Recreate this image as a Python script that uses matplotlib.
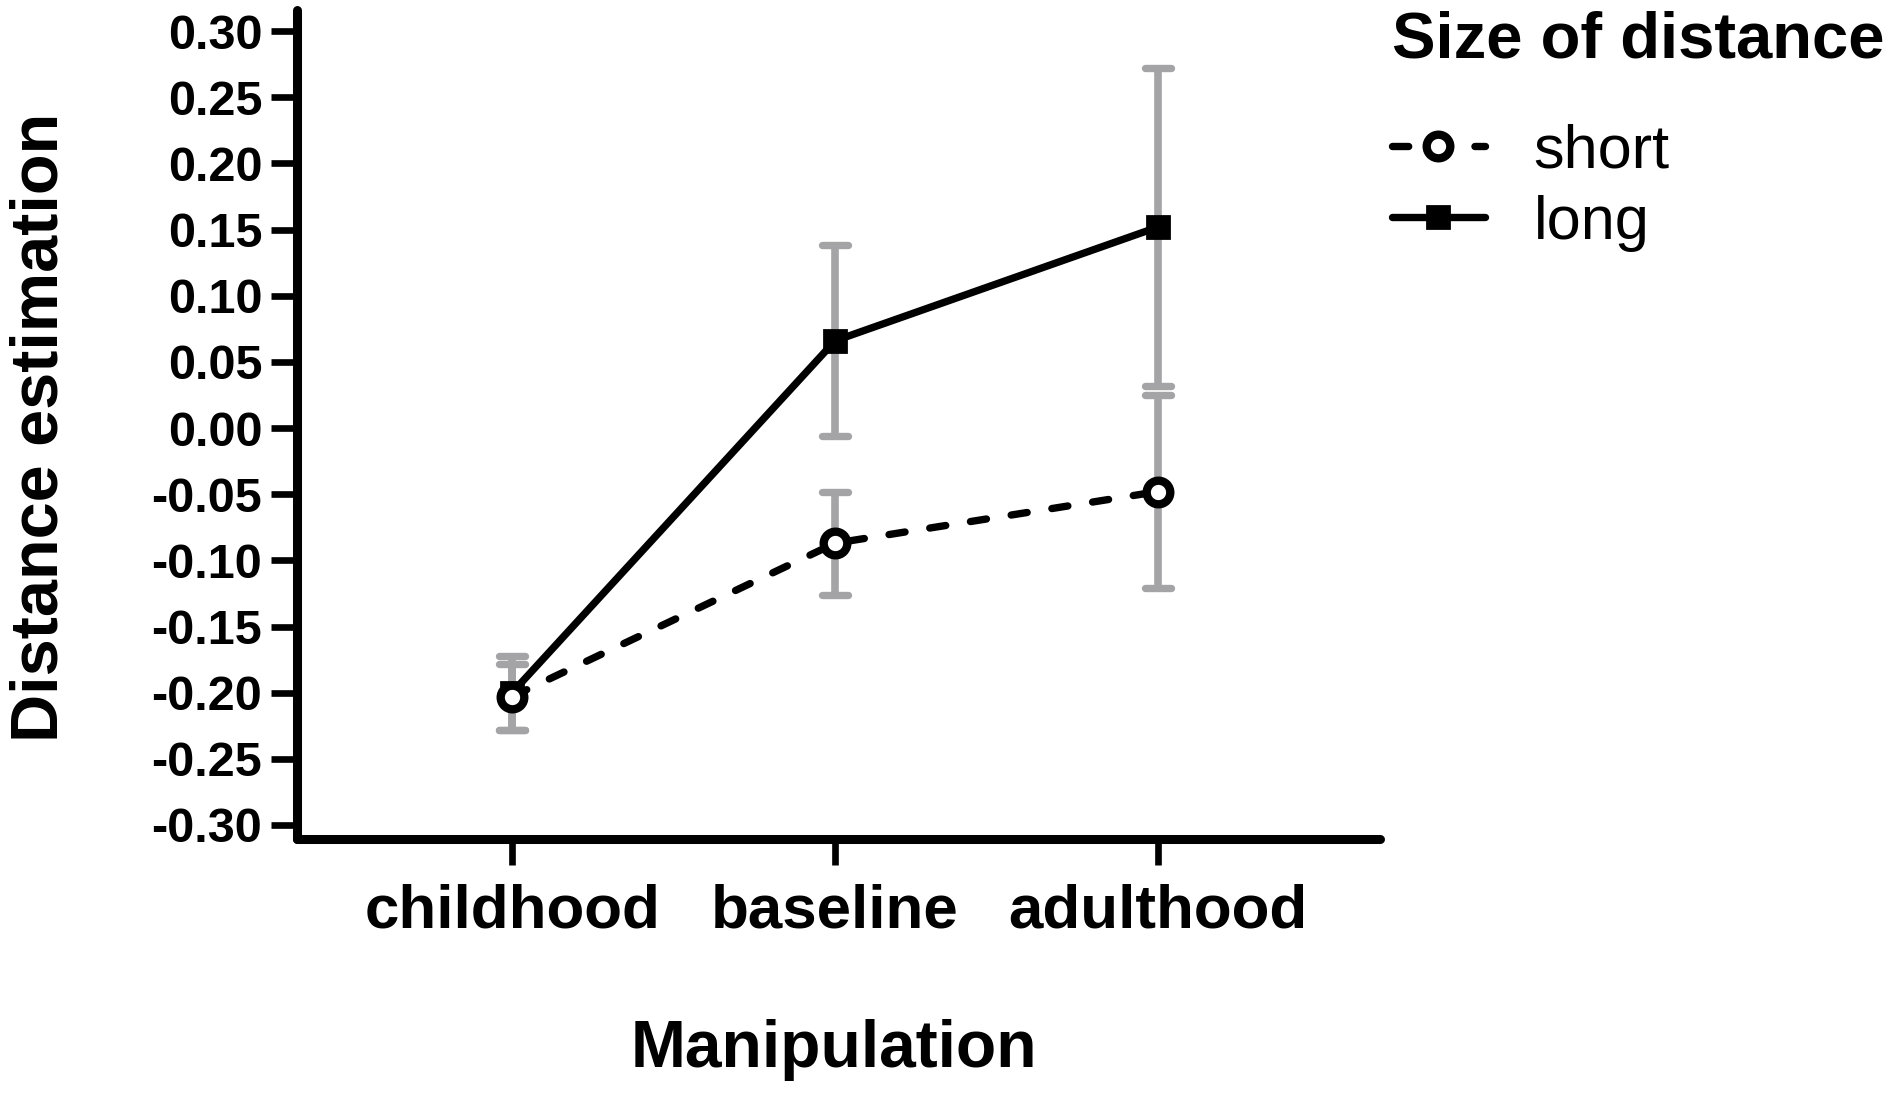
import numpy as np
import matplotlib.pyplot as plt
from matplotlib.markers import MarkerStyle

plt.rcParams['font.family'] = ['Liberation Sans', 'DejaVu Sans']
plt.rcParams['font.weight'] = 'bold'

# data (means +/- error)
conditions = ['childhood', 'baseline', 'adulthood']
short_mean = [-0.203, -0.087, -0.048]
short_err = [0.025, 0.039, 0.073]
long_mean = [-0.200, 0.066, 0.152]
long_err = [0.028, 0.072, 0.120]
y_ticks = [-0.30, -0.25, -0.20, -0.15, -0.10, -0.05, 0.00,
           0.05, 0.10, 0.15, 0.20, 0.25, 0.30]

gray = '#a4a4a7'
W, H = 1901, 1096
x = np.arange(len(conditions))

fig = plt.figure(figsize=(W / 100, H / 100), dpi=100)
ax = fig.add_axes([297 / W, 1 - 839 / H, (1380 - 297) / W, (839 - 10) / H])

# error bars underneath everything
for means, errs in [(long_mean, long_err), (short_mean, short_err)]:
    eb = ax.errorbar(x, means, yerr=errs, fmt='none', ecolor=gray,
                     elinewidth=5.5, capsize=9.2, capthick=5.3, zorder=2)
    for cap in eb[1]:
        cap.set_marker(MarkerStyle('_', capstyle='round'))

long_line, = ax.plot(x, long_mean, color='black', lw=5.3, marker='s',
                     ms=16.5, mew=2, mfc='black', mec='black', zorder=3,
                     solid_capstyle='round', label='long')
short_line, = ax.plot(x, short_mean, color='black', lw=5.3,
                      ls=(0, (2.2, 3.4)), dash_capstyle='round', marker='o',
                      ms=17, mew=6, mfc='white', mec='black', zorder=4,
                      label='short')

ax.set_xlim(-0.666, 2.687)
ax.set_ylim(-0.3106, 0.316)
ax.spines[['top', 'right']].set_visible(False)
for s in ['left', 'bottom']:
    ax.spines[s].set_linewidth(6.5)
    ax.spines[s].set_capstyle('round')

ax.set_yticks(y_ticks)
ax.set_yticklabels([f'{v:.2f}' for v in y_ticks])
ax.set_xticks(x, conditions)
ax.tick_params(axis='y', length=19, width=4.8, labelsize=35, pad=6)
ax.tick_params(axis='x', length=19, width=4.8, labelsize=44.6, pad=13)

ax.set_ylabel('Distance estimation', fontsize=48, fontweight='bold')
ax.yaxis.set_label_coords(-0.208, 0.497)
ax.set_xlabel('Manipulation', fontsize=47.5, fontweight='bold')
ax.xaxis.set_label_coords(0.496, -0.217)

fig.text(1392 / W, 1 - 58 / H, 'Size of distance', fontsize=47,
         fontweight='bold', ha='left', va='baseline')
ax.legend(handles=[short_line, long_line], loc='upper left',
          bbox_to_anchor=(1392 / W, 1 - 123 / H),
          bbox_transform=fig.transFigure, frameon=False, borderpad=0,
          borderaxespad=0, handlelength=1.52, handletextpad=0.8,
          labelspacing=0.24, numpoints=1,
          prop={'size': 44, 'weight': 'normal'})

fig.savefig('out.png', dpi=100)
